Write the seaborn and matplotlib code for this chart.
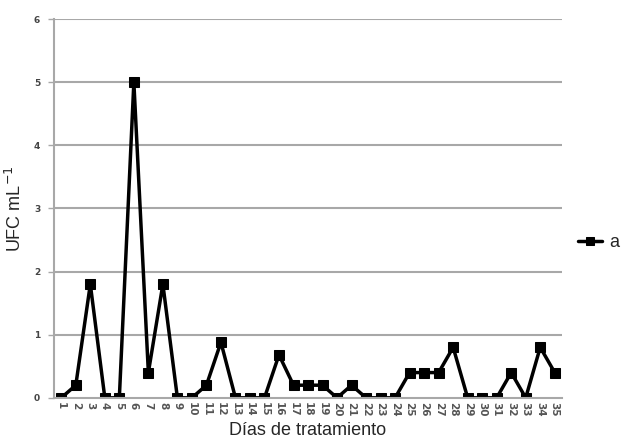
# Line plot of UFC counts per treatment day.

import seaborn as sns
import numpy as np
import matplotlib.pyplot as plt
import pandas as pd

days = list(range(1, 36))
ufc = [0, 0.2, 1.8, 0, 0, 5, 0.4, 1.8, 0, 0,
       0.2, 0.88, 0, 0, 0, 0.68, 0.2, 0.2, 0.2, 0,
       0.2, 0, 0, 0, 0.4, 0.4, 0.4, 0.8, 0, 0,
       0, 0.4, 0, 0.8, 0.4]
y_ticks = [0, 1, 2, 3, 4, 5, 6]
series_name = "a"

df = pd.DataFrame({"dia": days, "ufc": ufc})

sns.set_style("white")
plt.rcParams['font.family'] = ['Liberation Sans', 'DejaVu Sans']

fig = plt.figure(figsize=(6.21, 4.44), dpi=100)
ax = fig.add_axes([0.087, 0.104, 0.818, 0.853])

# Grid lines under the data
for v in y_ticks[1:]:
    ax.axhline(v, color="#a8a8a8", lw=1.5, zorder=0)

sns.lineplot(data=df, x="dia", y="ufc", ax=ax, color="black", lw=2.5,
             marker="s", markersize=6.5, markeredgecolor="black",
             label=series_name)

ax.set_xlim(0.5, 35.5)
ax.set_ylim(0, 6)
ax.set_yticks(y_ticks)
ax.set_yticklabels([str(v) for v in y_ticks], fontsize=6.5, fontweight="bold",
                   color="#444444", family="DejaVu Sans")
ax.set_xticks(days)
ax.set_xticklabels([str(d) for d in days], rotation=-90, fontsize=7.5,
                   fontweight="bold", color="#555555", family="DejaVu Sans")
ax.set_xticks(np.arange(0.5, 36, 1), minor=True)
ax.tick_params(axis="x", which="major", length=0, pad=3)
ax.tick_params(axis="x", which="minor", length=3, color="#a8a8a8", width=1)
ax.tick_params(axis="y", length=4, color="#a8a8a8", width=1, left=True, pad=6)

for s in ["top", "right"]:
    ax.spines[s].set_visible(False)
for s in ["left", "bottom"]:
    ax.spines[s].set_color("#a8a8a8")
    ax.spines[s].set_linewidth(1.5)

ax.set_xlabel("Días de tratamiento", fontsize=13, labelpad=4)
ax.set_ylabel("UFC mL$^{-1}$", fontsize=13, labelpad=6)

ax.legend(loc="center left", bbox_to_anchor=(1.0, 0.41), frameon=False,
          fontsize=13, handlelength=1.3, handletextpad=0.4, markerscale=0.8)

plt.savefig("out.png", dpi=100)
plt.close()
